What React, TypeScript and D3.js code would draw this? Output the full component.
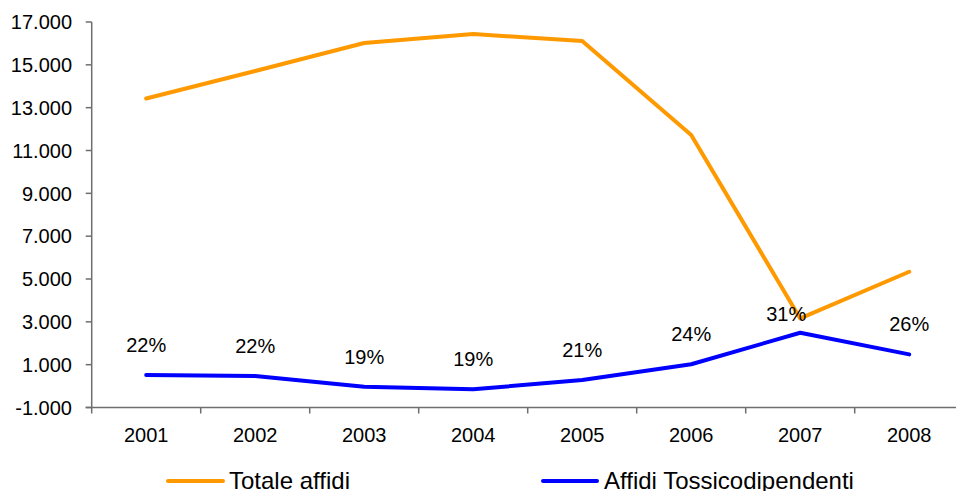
import * as d3 from 'd3';

const YEARS = ['2001', '2002', '2003', '2004', '2005', '2006', '2007', '2008'];
const TOTALE_AFFIDI = [13430, 14710, 16020, 16440, 16110, 11720, 3160, 5340];
const AFFIDI_TOSSICO = [520, 470, -30, -150, 280, 1020, 2490, 1480];
const PERCENT_LABELS = ['22%', '22%', '19%', '19%', '21%', '24%', '31%', '26%'];
const Y_TICKS = [-1000, 1000, 3000, 5000, 7000, 9000, 11000, 13000, 15000, 17000];

const WIDTH = 956;
const HEIGHT = 491;
const PLOT = { left: 91.7, right: 963.7, top: 22, bottom: 407.5 };
const FONT = 'Liberation Sans, Arial, sans-serif';

const itLocale = d3.formatLocale({
  decimal: ',',
  thousands: '.',
  grouping: [3],
  currency: ['€', ''],
  minus: '-',
});
const fmt = itLocale.format(',.0f');

export default function App() {
  const x = d3.scaleBand<string>().domain(YEARS).range([PLOT.left, PLOT.right]);
  const y = d3.scaleLinear().domain([-1000, 17000]).range([PLOT.bottom, PLOT.top]);
  const cx = (d: string) => (x(d) || 0) + x.bandwidth() / 2;

  const line = d3
    .line<number>()
    .x((_, i) => cx(YEARS[i]))
    .y((d) => y(d));

  // the 2007 label sits closer to its point and a bit to the left in the original
  const labelShift = (i: number) => (YEARS[i] === '2007' ? { dx: -14, dy: 11 } : { dx: 0, dy: 0 });

  return (
    <svg
      width={WIDTH}
      height={HEIGHT}
      style={{ position: 'absolute', left: 0, top: 0, background: '#fff' }}
      fontFamily={FONT}
    >
      {/* y axis */}
      <line x1={PLOT.left} x2={PLOT.left} y1={PLOT.top} y2={PLOT.bottom} stroke="#6e6e6e" strokeWidth={1.5} />
      {Y_TICKS.map((t) => (
        <g key={t} transform={`translate(0,${y(t)})`}>
          <line x1={PLOT.left - 6} x2={PLOT.left} stroke="#6e6e6e" strokeWidth={1.5} />
          <text x={72} dy="0.36em" textAnchor="end" fontSize={20} fill="#000">
            {fmt(t)}
          </text>
        </g>
      ))}

      {/* x axis */}
      <line x1={PLOT.left - 6} x2={WIDTH} y1={PLOT.bottom} y2={PLOT.bottom} stroke="#6e6e6e" strokeWidth={1.5} />
      {YEARS.map((d) => (
        <g key={d}>
          <line
            x1={x(d) || 0}
            x2={x(d) || 0}
            y1={PLOT.bottom}
            y2={PLOT.bottom + 6}
            stroke="#6e6e6e"
            strokeWidth={1.5}
          />
          <text x={cx(d)} y={442} textAnchor="middle" fontSize={20} fill="#000">
            {d}
          </text>
        </g>
      ))}

      {/* series */}
      <path d={line(TOTALE_AFFIDI) || ''} fill="none" stroke="#FF9900" strokeWidth={4} strokeLinejoin="round" strokeLinecap="round" />
      <path d={line(AFFIDI_TOSSICO) || ''} fill="none" stroke="#0000FF" strokeWidth={4} strokeLinejoin="round" strokeLinecap="round" />

      {PERCENT_LABELS.map((p, i) => {
        const s = labelShift(i);
        return (
          <text
            key={i}
            x={cx(YEARS[i]) + s.dx}
            y={y(AFFIDI_TOSSICO[i]) - 23 + s.dy}
            textAnchor="middle"
            fontSize={20}
            fill="#000"
          >
            {p}
          </text>
        );
      })}

      {/* legend */}
      <line x1={168} x2={223} y1={481} y2={481} stroke="#FF9900" strokeWidth={4} strokeLinecap="round" />
      <text x={229} y={489} fontSize={24} fill="#000">Totale affidi</text>
      <line x1={543} x2={597} y1={481} y2={481} stroke="#0000FF" strokeWidth={4} strokeLinecap="round" />
      <text x={604} y={489} fontSize={24} fill="#000">Affidi Tossicodipendenti</text>
    </svg>
  );
}
